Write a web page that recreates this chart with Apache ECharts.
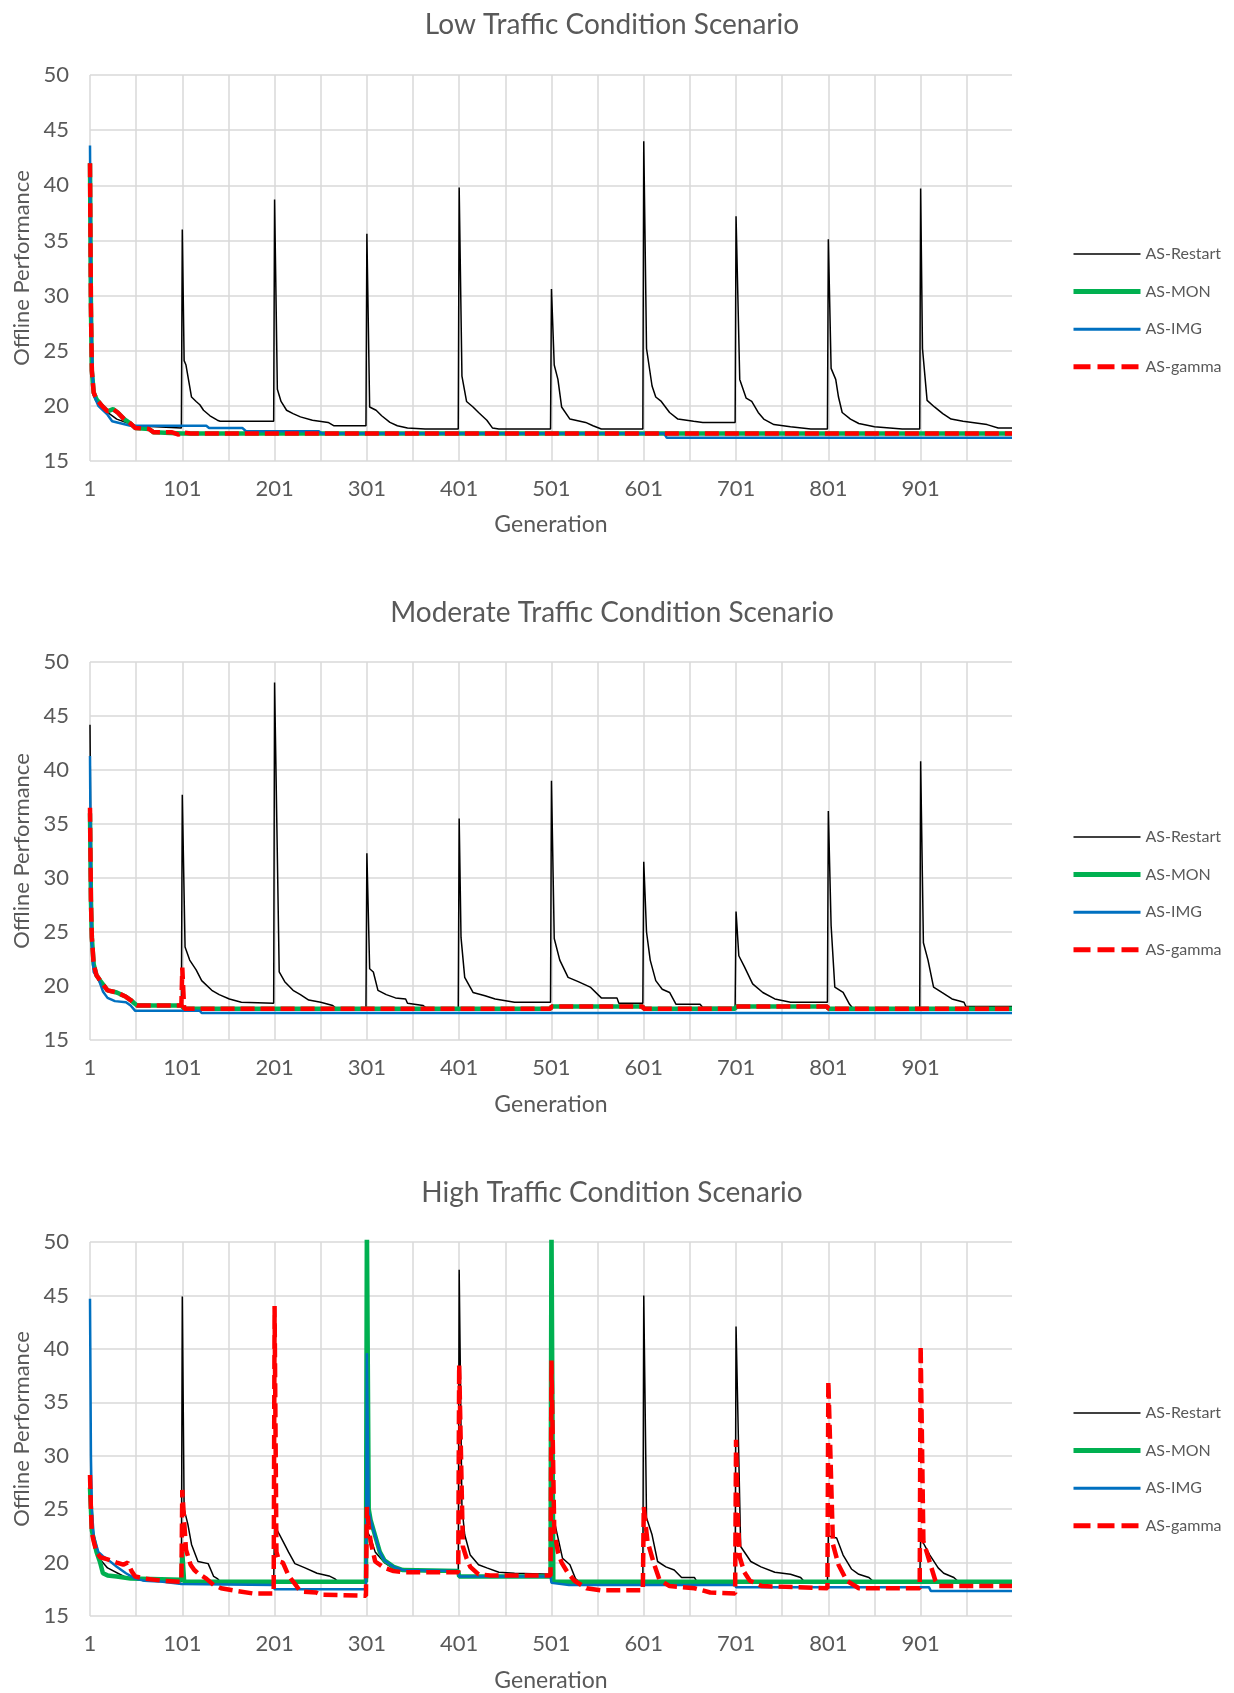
<!DOCTYPE html>
<html>
<head>
<meta charset="utf-8">
<script src="https://cdn.jsdelivr.net/npm/echarts@6/dist/echarts.min.js"></script>
<style>
  html, body { margin: 0; padding: 0; background: #ffffff; }
  #chart { width: 1234px; height: 1693px; }
</style>
</head>
<body>
<div id="chart"></div>
<script>
// ---------- tick labels / names ----------
const xTickLabels = ['1', '101', '201', '301', '401', '501', '601', '701', '801', '901'];
const seriesNames = ['AS-Restart', 'AS-MON', 'AS-IMG', 'AS-gamma'];
const chartTitles = ['Low Traffic Condition Scenario', 'Moderate Traffic Condition Scenario', 'High Traffic Condition Scenario'];

// ---------- Low traffic: [generation, offline performance] ----------
const lowRestart = [[1,42.5],[2,30],[3,24],[5,21],[10,20.2],[20,19.4],[30,18.8],[50,18.2],[100,18.0],
  [101,36.0],[103,24.1],[105,23.7],[111,20.8],[116,20.4],[120,20.1],[124,19.6],[131,19.1],[139,18.7],[142,18.6],[200,18.6],
  [201,38.7],[204,21.5],[208,20.4],[214,19.6],[221,19.3],[229,19.0],[242,18.7],[259,18.5],[265,18.2],[300,18.2],
  [301,35.6],[304,19.9],[311,19.6],[317,19.1],[326,18.5],[334,18.2],[345,18.0],[364,17.9],[400,17.9],
  [401,39.8],[404,22.7],[409,20.4],[416,19.9],[422,19.4],[431,18.7],[437,18.0],[444,17.9],[500,17.9],
  [501,30.6],[504,23.7],[508,22.4],[512,19.9],[521,18.8],[538,18.5],[546,18.2],[555,17.9],[600,17.9],
  [601,44.0],[604,25.2],[610,21.8],[614,20.8],[620,20.4],[629,19.4],[638,18.8],[655,18.6],[665,18.5],[700,18.5],
  [701,37.2],[705,22.4],[712,20.7],[718,20.4],[725,19.4],[731,18.8],[742,18.3],[760,18.1],[782,17.9],[800,17.9],
  [801,35.1],[804,23.4],[809,22.4],[812,20.8],[816,19.4],[825,18.8],[834,18.4],[851,18.1],[881,17.9],[900,17.9],
  [901,39.7],[903,25.2],[908,20.5],[916,19.9],[925,19.3],[934,18.8],[947,18.6],[973,18.3],[985,18.0],[1000,18.0]];
const lowMon = [[1,42.0],[2,29],[3,23.2],[5,21.2],[8,20.6],[14,20.0],[20,19.5],[26,19.7],[31,19.4],[38,18.8],[45,18.4],
  [50,18.0],[65,17.9],[70,17.6],[101,17.5],[1000,17.5]];
const lowImg = [[1,43.6],[2,30],[3,25],[5,21],[10,20.0],[20,19.2],[25,18.6],[35,18.4],[45,18.2],[127,18.2],[130,18.0],
  [166,18.0],[170,17.7],[249,17.7],[252,17.5],[623,17.5],[626,17.1],[1000,17.1]];
const lowGamma = [[1,42.0],[2,29],[3,23.2],[5,21.2],[8,20.6],[14,20.0],[20,19.5],[26,19.7],[31,19.4],[38,18.8],[45,18.4],
  [50,18.0],[65,17.9],[70,17.6],[90,17.6],[97,17.4],[101,17.6],[110,17.5],[1000,17.5]];

// ---------- Moderate traffic ----------
const modRestart = [[1,44.2],[2,32],[3,26],[5,22],[10,20.5],[20,19.6],[30,19.3],[40,19.0],[50,18.3],[100,18.2],
  [101,37.7],[104,23.6],[109,22.4],[116,21.5],[122,20.5],[133,19.6],[141,19.2],[152,18.8],[165,18.5],[200,18.4],
  [201,48.1],[206,21.3],[212,20.4],[221,19.6],[229,19.2],[238,18.7],[251,18.5],[264,18.2],[268,17.9],[300,17.9],
  [301,32.3],[304,21.6],[308,21.3],[313,19.6],[322,19.2],[332,18.9],[343,18.8],[345,18.4],[362,18.2],[366,17.9],[400,17.9],
  [401,35.5],[403,24.5],[407,20.8],[416,19.4],[429,19.1],[440,18.8],[461,18.5],[500,18.5],
  [501,39.0],[504,24.4],[510,22.4],[519,20.8],[530,20.4],[543,19.9],[555,18.9],[572,18.9],[574,18.4],[600,18.4],
  [601,31.5],[604,25.0],[608,22.4],[614,20.5],[621,19.7],[629,19.4],[636,18.3],[662,18.3],[665,18.0],[700,18.0],
  [701,26.9],[704,22.8],[710,21.8],[719,20.2],[730,19.4],[743,18.8],[760,18.5],[800,18.5],
  [801,36.2],[804,25.6],[808,19.9],[817,19.4],[824,18.3],[828,17.9],[900,17.9],
  [901,40.8],[904,24.0],[909,22.4],[915,19.9],[924,19.4],[935,18.8],[948,18.5],[950,18.1],[1000,18.1]];
const modMon = [[1,36.0],[2,28],[3,24.5],[5,22],[8,21],[12,20.5],[20,19.6],[30,19.4],[40,19.0],[45,18.7],[49,18.4],[52,18.2],
  [100,18.2],[103,17.9],[500,17.9],[501,18.1],[600,18.1],[601,17.9],[700,17.9],[701,18.1],[800,18.1],[801,17.9],[1000,17.9]];
const modImg = [[1,41.3],[2,28],[3,24],[5,21.3],[10,20.7],[15,19.5],[20,18.9],[28,18.6],[40,18.5],[45,18.2],[50,17.7],
  [120,17.7],[122,17.5],[1000,17.5]];
const modGamma = [[1,36.5],[2,28],[3,24.5],[5,22],[8,21],[12,20.5],[20,19.6],[30,19.4],[40,19.0],[45,18.7],[49,18.4],[52,18.2],
  [100,18.2],[101,21.7],[103,17.9],[500,17.9],[501,18.1],[600,18.1],[601,17.9],[700,17.9],[701,18.1],[800,18.1],[801,17.9],[1000,17.9]];

// ---------- High traffic ----------
const highRestart = [[1,26],[3,22.5],[10,20.5],[20,19.5],[40,18.6],[60,18.3],[100,18.2],
  [101,44.9],[103,25.0],[107,23.6],[111,21.7],[118,20.1],[129,19.9],[135,18.7],[139,18.5],[142,18.2],[200,18.2],
  [201,23.5],[204,23.0],[210,22.0],[216,21.0],[223,19.9],[234,19.5],[247,19.0],[260,18.75],[266,18.5],[270,18.2],[300,18.2],
  [301,23.0],[305,22.3],[310,21.0],[320,20.0],[330,19.4],[340,19.2],[400,19.1],
  [401,47.4],[404,25.2],[407,22.6],[413,20.7],[422,19.8],[431,19.5],[444,19.1],[461,19.0],[500,18.9],
  [501,24.0],[504,23.9],[513,20.4],[521,19.8],[527,18.5],[535,17.9],[600,17.9],
  [601,45.0],[604,24.2],[610,22.6],[616,20.1],[625,19.6],[634,19.3],[642,18.6],[656,18.6],[660,18.0],[700,18.0],
  [701,42.1],[706,21.5],[717,20.1],[728,19.6],[743,19.1],[760,18.9],[771,18.6],[775,18.2],[800,18.2],
  [801,22.5],[810,22.3],[817,20.7],[826,19.4],[834,18.9],[845,18.6],[850,18.2],[900,18.2],
  [901,22.3],[911,20.7],[920,19.5],[926,19.0],[937,18.6],[942,18.2],[1000,18.2]];
const highMon = [[1,27],[3,23],[8,21],[12,20],[15,19.0],[20,18.8],[30,18.7],[45,18.5],[100,18.4],[101,21],[103,18.2],
  [300,18.2],[301,52],[303,25],[305,24],[310,22.5],[315,21.0],[320,20.2],[330,19.6],[340,19.3],[400,19.2],
  [401,18.7],[500,18.7],[501,52],[503,18.2],[1000,18.2]];
const highImg = [[1,44.7],[2,30],[3,25],[5,22.5],[10,21],[15,20.6],[20,20.3],[30,19.6],[40,19.0],[50,18.5],[60,18.3],[80,18.2],
  [100,18.0],[101,17.9],[200,17.9],[201,17.5],[300,17.5],[301,39.6],[303,24.8],[305,24.0],[310,22.5],[315,21.0],[320,20.2],
  [330,19.6],[340,19.3],[400,19.2],[401,18.7],[500,18.7],[501,18.1],[520,17.9],[700,17.9],[701,17.7],[910,17.7],[912,17.35],[1000,17.35]];
const highGamma = [[1,28.2],[2,25],[3,22.8],[5,22],[8,21],[12,20.5],[20,20.3],[30,20.0],[37,19.8],[42,20.0],[46,19.2],[50,18.7],
  [60,18.5],[80,18.3],[100,18.2],
  [101,26.8],[103,23.9],[105,21.2],[110,19.8],[114,19.3],[118,19.0],[127,18.5],[135,17.9],[143,17.6],[156,17.4],[178,17.1],[200,17.1],
  [201,44.0],[203,21],[206,20.1],[210,20.0],[216,18.8],[223,18.0],[229,17.3],[246,17.2],[251,17.0],[300,16.9],
  [301,25.2],[303,23.5],[305,22],[310,20.1],[320,19.5],[330,19.2],[340,19.1],[400,19.1],
  [401,38.5],[405,21.5],[409,20.4],[413,19.6],[422,18.9],[435,18.8],[500,18.8],
  [501,38.9],[504,23],[508,21],[512,20],[519,19],[526,18.3],[539,17.6],[555,17.4],[600,17.4],
  [601,25.2],[605,22.0],[612,19.9],[618,18.4],[629,17.8],[656,17.6],[673,17.2],[700,17.1],
  [701,31.5],[703,24],[705,20.5],[710,19.1],[716,18.3],[729,17.8],[800,17.6],
  [801,37.0],[806,21.7],[812,19.8],[821,18.3],[834,17.6],[900,17.6],
  [901,40.3],[904,22],[911,20],[917,18.3],[921,17.8],[1000,17.8]];

const chartData = [
  [lowRestart, lowMon, lowImg, lowGamma],
  [modRestart, modMon, modImg, modGamma],
  [highRestart, highMon, highImg, highGamma]
];

// ---------- layout & style ----------
const FONT = 'Lato';
const TXT = '#595959';
const GRIDC = '#d9d9d9';
const layout = [
  { top: 75,   height: 386, titleTop: 11,   legendTop: 246, nameGap: 52 },
  { top: 662,  height: 378, titleTop: 599,  legendTop: 829, nameGap: 53 },
  { top: 1242, height: 374, titleTop: 1179, legendTop: 1405, nameGap: 53 }
];
const styles = [
  { color: '#000000', width: 1.5, type: 'solid' },
  { color: '#00B050', width: 4.5, type: 'solid' },
  { color: '#0070C0', width: 2.5, type: 'solid' },
  { color: '#FF0000', width: 4.5, type: [14, 6] }
];
const legendLine = [
  { width: 1.5, type: 'solid' },
  { width: 5, type: 'solid' },
  { width: 3, type: 'solid' },
  { width: 5, type: [17, 7] }
];

const option = {
  backgroundColor: '#ffffff',
  animation: false,
  textStyle: { fontFamily: FONT },
  title: [], grid: [], xAxis: [], yAxis: [], legend: [], series: []
};

layout.forEach((L, i) => {
  option.title.push({
    text: chartTitles[i], left: 612, top: L.titleTop, textAlign: 'center', padding: 0,
    textStyle: { fontFamily: FONT, fontSize: 28, fontWeight: 'normal', color: TXT }
  });
  option.grid.push({ left: 90, width: 922, top: L.top, height: L.height, containLabel: false });
  option.xAxis.push({
    type: 'value', gridIndex: i, min: 1, max: 1000, interval: 50,
    name: 'Generation', nameLocation: 'middle', nameGap: L.nameGap,
    nameTextStyle: { fontFamily: FONT, fontSize: 23, color: TXT },
    axisLine: { show: false }, axisTick: { show: false },
    axisLabel: {
      fontFamily: FONT, fontSize: 22, color: TXT, margin: 17,
      formatter: v => (xTickLabels.indexOf(String(v)) >= 0 ? String(v) : '')
    },
    splitLine: { show: true, showMinLine: true, showMaxLine: false, lineStyle: { color: GRIDC, width: 1.5 } }
  });
  option.yAxis.push({
    type: 'value', gridIndex: i, min: 15, max: 50, interval: 5,
    name: 'Offline Performance', nameLocation: 'middle', nameGap: 56,
    nameTextStyle: { fontFamily: FONT, fontSize: 22, color: TXT },
    axisLine: { show: false }, axisTick: { show: false },
    axisLabel: { fontFamily: FONT, fontSize: 22, color: TXT, margin: 21 },
    splitLine: { show: true, lineStyle: { color: GRIDC, width: 1.5 } }
  });
  option.legend.push({
    orient: 'vertical', left: 1071, top: L.legendTop, padding: 0,
    itemWidth: 67, itemHeight: 14, itemGap: 21.6, selectedMode: false,
    itemStyle: { opacity: 0 },
    textStyle: { fontFamily: FONT, fontSize: 16, color: TXT },
    data: seriesNames.map((n, k) => ({ name: n, lineStyle: legendLine[k], itemStyle: { opacity: 0 } }))
  });
  chartData[i].forEach((d, k) => {
    option.series.push({
      name: seriesNames[k], type: 'line', xAxisIndex: i, yAxisIndex: i,
      data: d, showSymbol: false, symbol: 'none', smooth: false,
      lineStyle: { color: styles[k].color, width: styles[k].width, type: styles[k].type },
      itemStyle: { color: styles[k].color },
      z: 2 + k, clip: true
    });
  });
});

const chart = echarts.init(document.getElementById('chart'), null, { renderer: 'canvas' });
chart.setOption(option);
</script>
</body>
</html>
